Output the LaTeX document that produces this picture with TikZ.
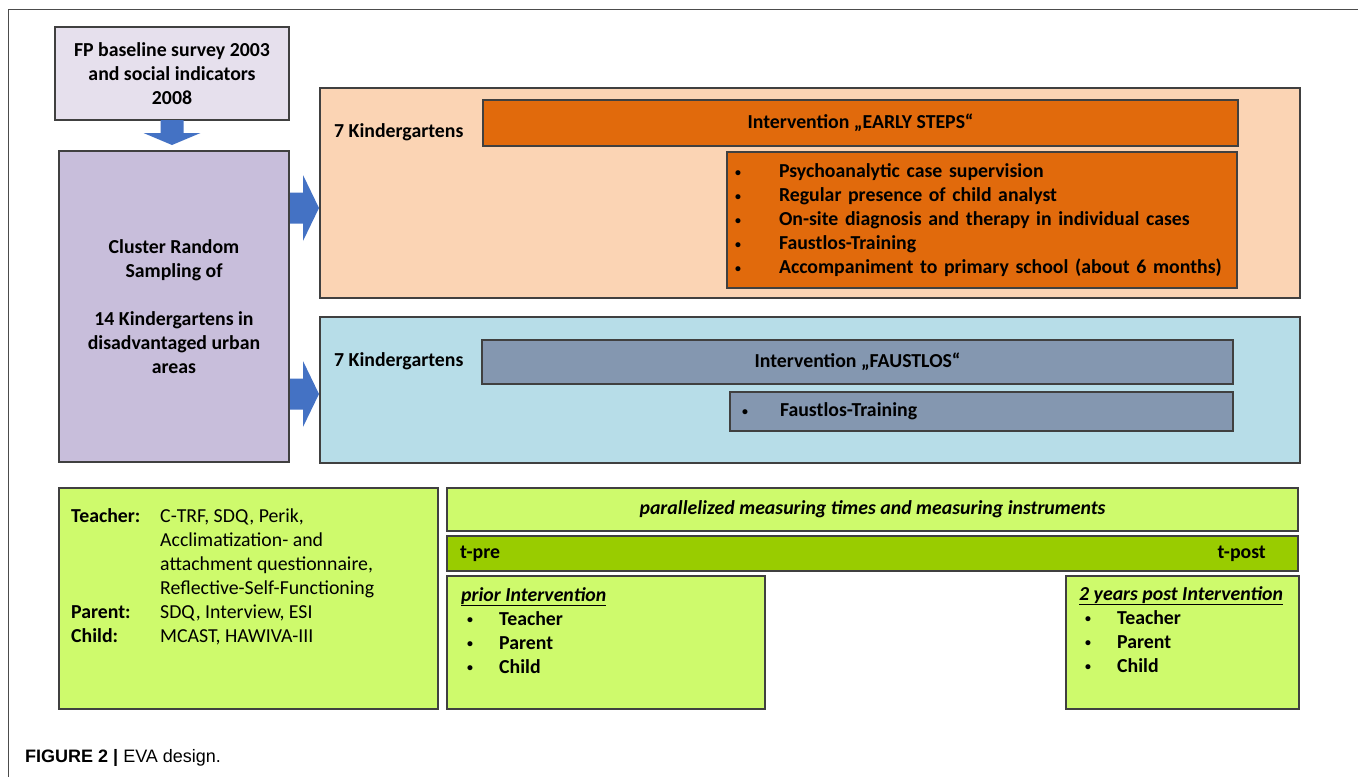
\documentclass[tikz,border=0pt]{standalone}
\usepackage{fontspec}
\setmainfont{Carlito}
\newfontfamily\captionfont{Liberation Sans}
\usetikzlibrary{calc,positioning}
\definecolor{LilacLight}{RGB}{230,224,237}
\definecolor{LilacDark}{RGB}{200,190,219}
\definecolor{PeachBack}{RGB}{251,212,180}
\definecolor{OrangeBar}{RGB}{225,106,12}
\definecolor{SkyBack}{RGB}{183,221,232}
\definecolor{SlateBar}{RGB}{132,151,176}
\definecolor{LimeBox}{RGB}{206,250,108}
\definecolor{LimeBar}{RGB}{153,204,0}
\definecolor{ArrowBlue}{RGB}{68,114,196}
\newcommand{\fsz}{\fontsize{19.8}{24}\selectfont}
\newcommand{\dotmark}{\raisebox{0.12ex}{\scalebox{0.6}{\textbullet}}}

\tikzset{
  pics/blockarrow/.style n args={4}{code={
    \fill[ArrowBlue] (0pt,-#3) -- (#1,-#3) -- (#1,-#4) -- (#2,0pt)
      -- (#1,#4) -- (#1,#3) -- (0pt,#3) -- cycle;
  }}
}

\begin{document}
\begin{tikzpicture}[x=1pt,y=-1pt,
  box/.style={draw=black!75,line width=1.2pt,anchor=north west,inner sep=0pt,
    outer sep=0pt,font=\bfseries\fsz},
  txt/.style={anchor=west,inner sep=0pt,font=\bfseries\fsz},
  listtxt/.style={anchor=north west,inner sep=0pt,align=left,font=\fsz}]
  \useasboundingbox (0,0) rectangle (1358,777);
  \draw[black!70,line width=1pt] (1358,9) -- (8,9) -- (8,777);

  % sampling
  \node[box,fill=LilacLight,minimum width=234,minimum height=93,align=center]
    (survey) at (55,27) {FP baseline survey 2003\\and social indicators\\2008};
  \node[box,fill=LilacDark,minimum width=230,minimum height=311,align=center]
    (cluster) at (59,151) {Cluster Random\\Sampling of\\[24pt]14 Kindergartens in\\disadvantaged urban\\areas};
  \pic[rotate=-90] at (survey.south) {blockarrow={13pt}{25pt}{11.5pt}{28.5pt}};

  % early steps group
  \node[box,fill=PeachBack,minimum width=980,minimum height=210] (peach) at (320,88) {};
  \node[txt] (kgA) at (334,132) {7 Kindergartens};
  \node[box,fill=OrangeBar,minimum width=755,minimum height=46] (early) at (483,100)
    {Intervention „EARLY STEPS“};
  \node[box,fill=OrangeBar,minimum width=510,minimum height=136,inner xsep=8pt,
    text width=494,align=left] (earlylist) at (727,152)
    {\makebox[44pt][l]{\dotmark}Psychoanalytic case supervision\\
     \makebox[44pt][l]{\dotmark}Regular presence of child analyst\\
     \makebox[44pt][l]{\dotmark}On-site diagnosis and therapy in individual cases\\
     \makebox[44pt][l]{\dotmark}Faustlos-Training\\
     \makebox[44pt][l]{\dotmark}Accompaniment to primary school (about 6 months)};

  % faustlos group
  \node[box,fill=SkyBack,minimum width=980,minimum height=146] (sky) at (320,317) {};
  \node[txt] (kgB) at (334,361) {7 Kindergartens};
  \node[box,fill=SlateBar,minimum width=751,minimum height=44] (faust) at (482,340)
    {Intervention „FAUSTLOS“};
  \node[box,fill=SlateBar,minimum width=503,minimum height=39,inner xsep=12pt,
    text width=479,align=left] (faustlist) at (730,392)
    {\makebox[38pt][l]{\dotmark}Faustlos-Training};

  \pic at ($(cluster.east |- peach.center)+(1,15)$) {blockarrow={13pt}{29pt}{15.5pt}{33pt}};
  \pic at ($(cluster.east |- sky.center)+(1,4)$) {blockarrow={13pt}{29pt}{15.5pt}{33pt}};

  % measuring
  \node[box,fill=LimeBox,minimum width=379,minimum height=221] (instr) at (59,488) {};
  \node[listtxt] (instrtext) at ($(instr.north west)+(12,17)$)
    {\begin{tabular}{@{}p{89pt}@{}l@{}}
      \textbf{Teacher:} & C-TRF, SDQ, Perik,\\
       & Acclimatization- and\\
       & attachment questionnaire,\\
       & Reflective-Self-Functioning\\
      \textbf{Parent:} & SDQ, Interview, ESI\\
      \textbf{Child:} & MCAST, HAWIVA-III
     \end{tabular}};
  \node[box,fill=LimeBox,minimum width=851,minimum height=43,font=\bfseries\itshape\fsz]
    (parallel) at (447,488) {parallelized measuring times and measuring instruments};
  \node[box,fill=LimeBar,minimum width=851,minimum height=35] (tbar) at (447,536) {};
  \node[txt] (tpre) at ($(tbar.west)+(13,0)$) {t-pre};
  \node[txt,anchor=east] (tpost) at ($(tbar.east)+(-32,0)$) {t-post};

  \node[box,fill=LimeBox,minimum width=318,minimum height=133] (prior) at (447,576) {};
  \node[listtxt,font=\bfseries\fsz] (priortext) at ($(prior.north west)+(14,8)$)
    {\begin{tabular}{@{}p{38pt}@{}l@{}}
      \multicolumn{2}{@{}l@{}}{\underline{\textit{prior Intervention}}}\\
      \hspace*{6pt}\dotmark & Teacher\\
      \hspace*{6pt}\dotmark & Parent\\
      \hspace*{6pt}\dotmark & Child
     \end{tabular}};
  \node[box,fill=LimeBox,minimum width=233,minimum height=133] (post) at (1066,576) {};
  \node[listtxt,font=\bfseries\fsz] (posttext) at ($(post.north west)+(13,7)$)
    {\begin{tabular}{@{}p{38pt}@{}l@{}}
      \multicolumn{2}{@{}l@{}}{\underline{\textit{2 years post Intervention}}}\\
      \hspace*{6pt}\dotmark & Teacher\\
      \hspace*{6pt}\dotmark & Parent\\
      \hspace*{6pt}\dotmark & Child
     \end{tabular}};

  \node[anchor=west,inner sep=0pt,font=\captionfont\fontsize{18}{20}\selectfont]
    (caption) at (25,758) {\textbf{FIGURE 2 |} EVA design.};
\end{tikzpicture}
\end{document}
